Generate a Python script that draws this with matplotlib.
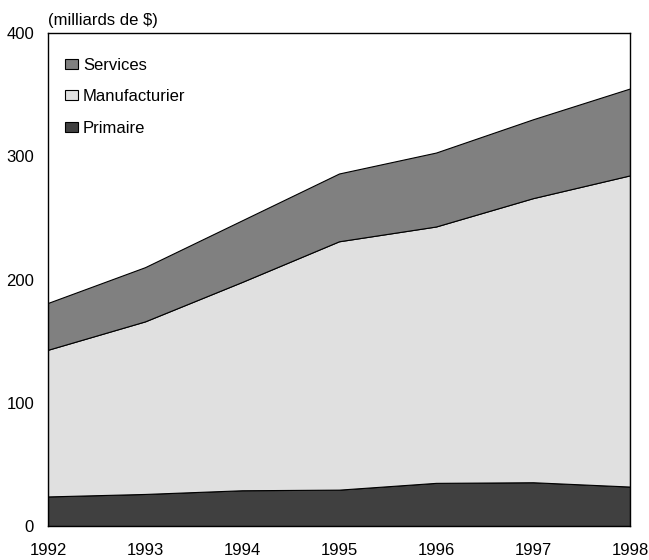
import matplotlib
matplotlib.use("Agg")
import matplotlib.pyplot as plt
from matplotlib.patches import Patch

# Données (milliards de $)
years = [1992, 1993, 1994, 1995, 1996, 1997, 1998]
primaire = [24, 26, 29, 29.5, 35, 35.5, 32]
manufacturier = [119, 140, 169, 201.5, 208, 230.5, 252.5]
services = [38, 44, 50, 55, 60, 64, 70.5]

series_names = ["Primaire", "Manufacturier", "Services"]
colors = ["#404040", "#e0e0e0", "#808080"]

plt.rcParams['font.family'] = ['Liberation Sans', 'DejaVu Sans']

fig = plt.figure(figsize=(6.49, 5.60), dpi=100)
ax = fig.add_axes([48 / 649, 34 / 560, 582 / 649, 493 / 560])

ax.stackplot(years, primaire, manufacturier, services,
             colors=colors, edgecolor="black", linewidth=0.8)

ax.set_xlim(years[0], years[-1])
ax.set_ylim(0, 400)
ax.set_xticks(years)
ax.set_yticks([0, 100, 200, 300, 400])
ax.tick_params(axis="x", length=0, pad=12, labelsize=12)
ax.tick_params(axis="y", length=0, pad=10, labelsize=12)
for s in ax.spines.values():
    s.set_linewidth(1.0)
    s.set_color("black")

# Légende : Services en haut, Primaire en bas
handles = [Patch(facecolor=colors[i], edgecolor="black", linewidth=0.8) for i in (2, 1, 0)]
labels = [series_names[i] for i in (2, 1, 0)]
ax.legend(handles, labels, loc="upper left", bbox_to_anchor=(0.0, 0.984),
          frameon=False, fontsize=12, handlelength=0.8, handleheight=0.55,
          handletextpad=0.3, labelspacing=1.0, borderaxespad=0.6)

fig.text(48 / 649, 1 - 20 / 560, "(milliards de $)", ha="left", va="center", fontsize=12)

fig.savefig("out.png", dpi=100)
